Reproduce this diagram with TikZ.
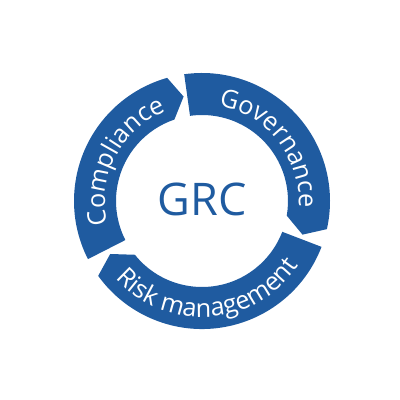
\documentclass[tikz,border=0pt]{standalone}
\usepackage{fontspec}
\setmainfont{Open Sans}
\usepackage{tikz}
\usetikzlibrary{decorations.text}
\definecolor{grcblue}{RGB}{31,91,160}
\def\outerR{3.2}
\def\innerR{2.15}
\def\midR{2.65}
\tikzset{
	segment/.style={
		fill=grcblue, draw=none
	},
	segment label/.style={
		decorate,
		decoration={text along path, text align=center,
			text={|\fontsize{18}{18}\selectfont\color{white}|#1}}
	},
	centre/.style={
		text=grcblue, font=\fontsize{32}{32}\selectfont, inner sep=0pt
	}
}
% \segment{tail angle}{tip angle}, running clockwise
\def\segment#1#2{%
	\fill[segment] (#1:\outerR) arc[start angle=#1, end angle=#2+5.8, radius=\outerR]
		-- (#2:\midR) -- (#2+8.7:\innerR)
		arc[start angle=#2+8.7, end angle=#1, radius=\innerR] -- cycle;
}

\begin{document}
\begin{tikzpicture}
\useasboundingbox (-5.05,-4.975) rectangle (4.95,5.025);

\segment{207}{100}
\segment{98}{-18.5}
\segment{-21}{-150}

\path[segment label=Compliance] (213:2.42) arc[start angle=213, end angle=93, radius=2.42];
\path[segment label=Governance] (98:2.42) arc[start angle=98, end angle=-22, radius=2.42];
\path[segment label=Risk management] (204:2.9) arc[start angle=204, end angle=344, radius=2.9];

\node[centre] (GRC) at (0,0.05) {GRC};

\end{tikzpicture}
\end{document}
